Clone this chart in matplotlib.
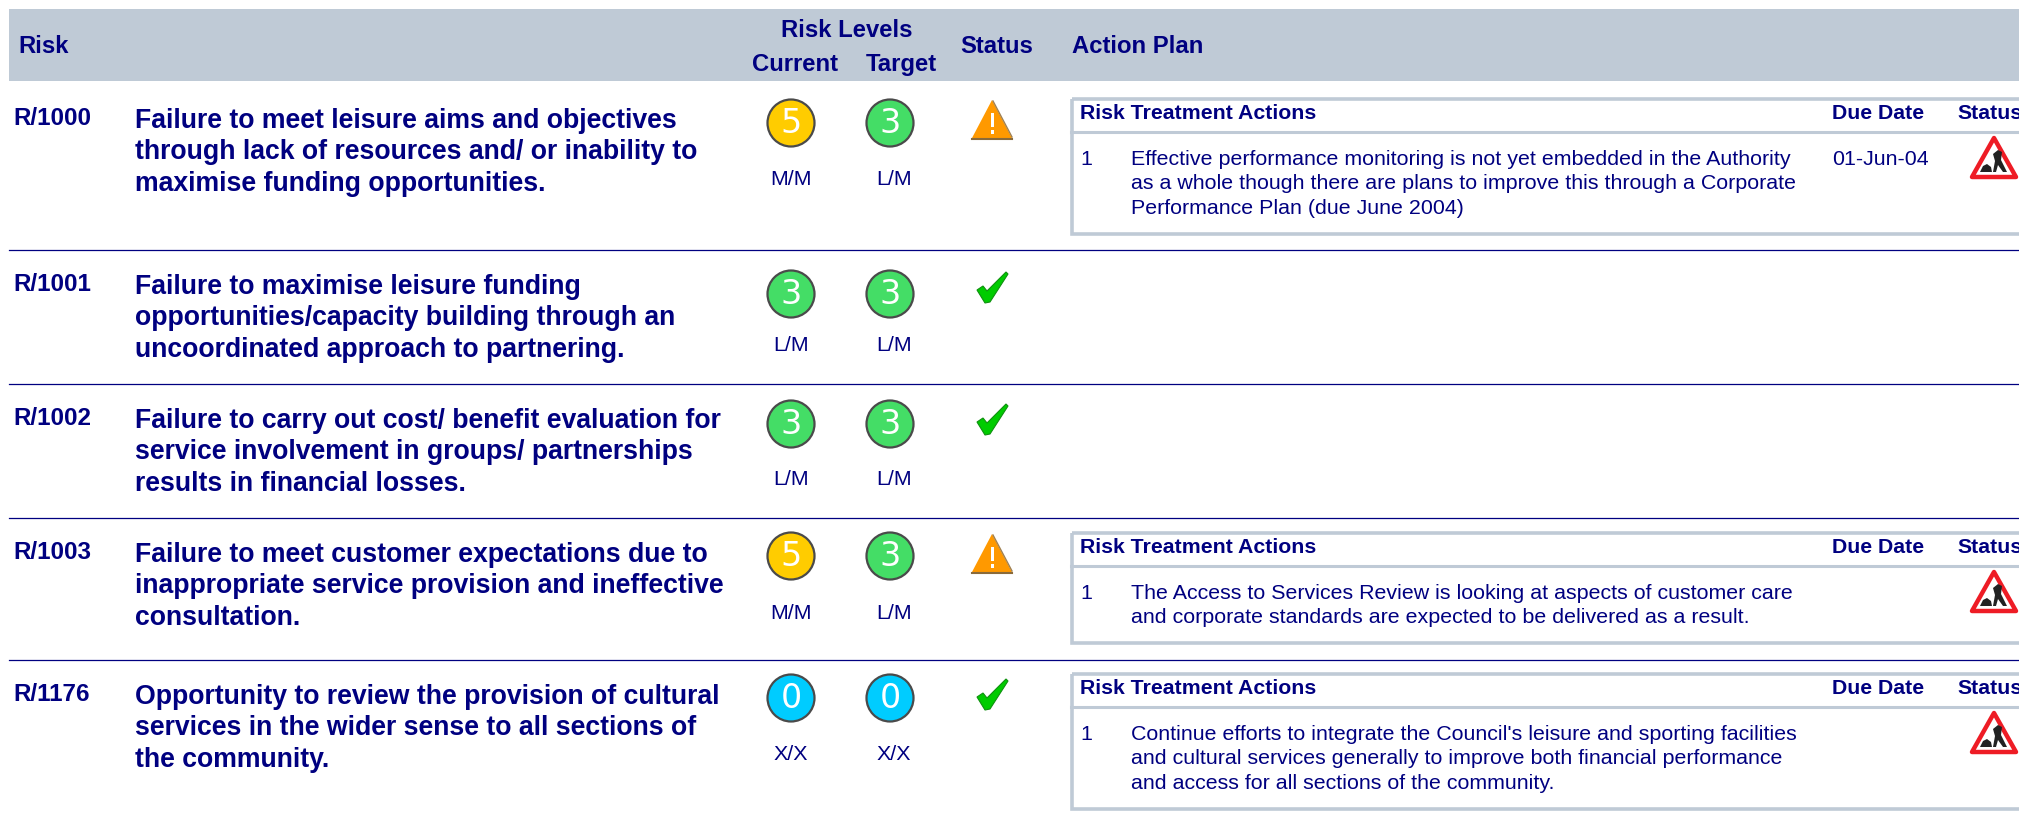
import matplotlib
matplotlib.use("Agg")
import matplotlib.pyplot as plt
from matplotlib.patches import Circle, Polygon, Rectangle

plt.rcParams['font.family'] = ['Liberation Sans', 'DejaVu Sans']

# data
risk_ids = ["R/1000", "R/1001", "R/1002", "R/1003", "R/1176"]
risk_text = [
    ["Failure to meet leisure aims and objectives",
     "through lack of resources and/ or inability to",
     "maximise funding opportunities."],
    ["Failure to maximise leisure funding",
     "opportunities/capacity building through an",
     "uncoordinated approach to partnering."],
    ["Failure to carry out cost/ benefit evaluation for",
     "service involvement in groups/ partnerships",
     "results in financial losses."],
    ["Failure to meet customer expectations due to",
     "inappropriate service provision and ineffective",
     "consultation."],
    ["Opportunity to review the provision of cultural",
     "services in the wider sense to all sections of",
     "the community."],
]
current_score = [5, 3, 3, 5, 0]
target_score = [3, 3, 3, 3, 0]
current_level = ["M/M", "L/M", "L/M", "M/M", "X/X"]
target_level = ["L/M", "L/M", "L/M", "L/M", "X/X"]
row_status = ["warn", "ok", "ok", "warn", "ok"]
actions = [
    ["Effective performance monitoring is not yet embedded in the Authority",
     "as a whole though there are plans to improve this through a Corporate",
     "Performance Plan (due June 2004)"],
    None,
    None,
    ["The Access to Services Review is looking at aspects of customer care",
     "and corporate standards are expected to be delivered as a result."],
    ["Continue efforts to integrate the Council's leisure and sporting facilities",
     "and cultural services generally to improve both financial performance",
     "and access for all sections of the community."],
]
due_dates = ["01-Jun-04", "", "", "", ""]

# layout, in pixels of the 2019x818 picture
row_top = [118, 284, 418, 552, 694]
icon_y = [123, 294, 424, 556, 698]
label_y = [178, 344, 478, 612, 753]
status_y = [120, 288, 420, 554, 695]
sep_y = [250, 384, 518, 660]
box_top = [97, None, None, 531, 672]
box_bottom = [235, None, None, 644, 810]

NAVY = "#000080"
BAND = "#BFCAD6"
score_col = {5: "#FFCC00", 3: "#44DD66", 0: "#00CCFF"}

fig = plt.figure(figsize=(20.19, 8.18), dpi=100)
ax = fig.add_axes([0, 0, 1, 1])
ax.set_xlim(0, 2019)
ax.set_ylim(818, 0)
ax.axis("off")


def txt(x, y, s, size, bold=False, ha="left"):
    # y is the middle of the x-height, so lines sit the same way as the original
    ax.text(x, y + size * 0.5, s, fontsize=size, color=NAVY, ha=ha, va="baseline",
            fontweight="bold" if bold else "normal")


def score_icon(x, y, n):
    ax.add_patch(Circle((x, y), 23.5, fc=score_col[n], ec="#4A4A4A", lw=1.6, zorder=3))
    ax.text(x, y + 0.5, str(n), fontsize=24, color="white", ha="center", va="center",
            family="DejaVu Sans", zorder=4)


def warn_icon(x, y):
    ax.add_patch(Polygon([(x, y - 20), (x + 20, y + 18), (x - 20, y + 18)], fc="#FF9900", zorder=3))
    ax.plot([x - 20, x + 20], [y + 18.5, y + 18.5], color="#8A6A3A", lw=1.5, zorder=4)
    ax.plot([x + 1, x + 20], [y - 19, y + 17], color="#A08050", lw=1, zorder=4)
    ax.add_patch(Rectangle((x - 1.5, y - 7), 3.5, 14, fc="white", zorder=5))
    ax.add_patch(Rectangle((x - 1.5, y + 10), 3.5, 4, fc="white", zorder=5))


def check_icon(x, y):
    pts = [(x - 15, y + 2), (x - 9, y - 2), (x - 5, y + 3), (x + 14, y - 16), (x + 16, y - 14),
           (x - 2, y + 14), (x - 7, y + 15)]
    ax.add_patch(Polygon(pts, fc="#00CC00", ec="#109010", lw=0.8, zorder=3))


def work_icon(x, y):
    # x is the centre, y the top of the sign
    ax.add_patch(Polygon([(x, y + 2), (x + 22, y + 41), (x - 22, y + 41)], fc="white", ec="#EE1C25",
                         lw=3.2, joinstyle="round", zorder=3))
    # heap
    ax.add_patch(Polygon([(x - 14, y + 36), (x - 11, y + 30), (x - 7, y + 28), (x - 3, y + 31), (x - 2, y + 36)],
                         fc="#222222", zorder=4))
    # digger
    ax.add_patch(Polygon([(x - 1, y + 18), (x + 4, y + 14), (x + 8, y + 16), (x + 7, y + 24), (x + 13, y + 36),
                          (x + 9, y + 36), (x + 4, y + 29), (x + 2, y + 36), (x - 1, y + 36), (x + 1, y + 25)],
                         fc="#222222", zorder=4))


# header band
ax.add_patch(Rectangle((9, 9), 2010, 72, fc=BAND, ec="none"))
HEAD = 17.2
txt(18, 44, "Risk", HEAD, True)
txt(847, 28, "Risk Levels", HEAD, True, "center")
txt(795, 62, "Current", HEAD, True, "center")
txt(901, 62, "Target", HEAD, True, "center")
txt(997, 44, "Status", HEAD, True, "center")
txt(1072, 44, "Action Plan", HEAD, True)

for y in sep_y:
    ax.plot([9, 2019], [y, y], color=NAVY, lw=0.9)

for i, rid in enumerate(risk_ids):
    txt(13, row_top[i] - 2, rid, 17.5, True)
    for j, line in enumerate(risk_text[i]):
        txt(135, row_top[i] + j * 31.7, line, 19.15, True)

    score_icon(791, icon_y[i], current_score[i])
    score_icon(890, icon_y[i], target_score[i])
    txt(791, label_y[i] - 1, current_level[i], 15.4, False, "center")
    txt(894, label_y[i] - 1, target_level[i], 15.4, False, "center")

    if row_status[i] == "warn":
        warn_icon(992, status_y[i])
    else:
        check_icon(992, status_y[i])

    if actions[i] is None:
        continue

    top = box_top[i]
    bottom = box_bottom[i]
    ax.add_patch(Rectangle((1071.5, top + 1.5), 1000, bottom - top - 3, fc="none", ec=BAND, lw=2.6, zorder=2))
    ax.plot([1071, 2019], [top + 34.5, top + 34.5], color=BAND, lw=2.2, zorder=2)
    txt(1080, top + 14, "Risk Treatment Actions", 15.3, True)
    txt(1832, top + 14, "Due Date", 15.3, True)
    txt(1957, top + 14, "Status", 15.3, True)
    txt(1080, top + 60, "1", 15.4)
    for j, line in enumerate(actions[i]):
        txt(1131, top + 60 + j * 24.5, line, 15.4)
    if due_dates[i]:
        txt(1832, top + 60, due_dates[i], 15.4)
    work_icon(1994, top + 39)

fig.savefig("out.png", dpi=100, facecolor="white")
